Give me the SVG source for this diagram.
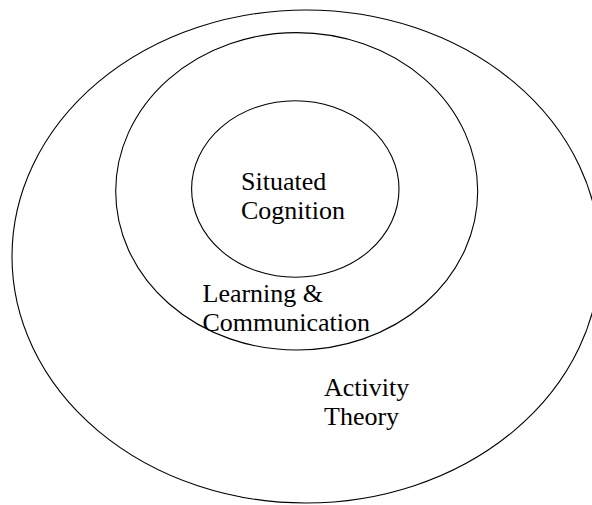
<svg xmlns="http://www.w3.org/2000/svg" width="592" height="505" viewBox="0 0 592 505">
<style>
.ring{fill:none;stroke:#000;stroke-width:1.1}
.lbl{font-family:"Liberation Serif","Times New Roman",serif;font-size:26px;fill:#000}
</style>
<rect width="592" height="505" fill="#fff"/>
<g id="activity-theory">
<ellipse class="ring" cx="306" cy="256.5" rx="294" ry="246.5"/>
<text class="lbl" x="324" y="396">Activity</text>
<text class="lbl" x="324" y="425">Theory</text>
</g>
<g id="learning-communication">
<ellipse class="ring" cx="296.7" cy="191.3" rx="181" ry="158.7"/>
<text class="lbl" x="202.5" y="302">Learning &amp;</text>
<text class="lbl" x="202.5" y="331">Communication</text>
</g>
<g id="situated-cognition">
<ellipse class="ring" cx="295.3" cy="189" rx="103.7" ry="88.3"/>
<text class="lbl" x="241" y="190">Situated</text>
<text class="lbl" x="241" y="219">Cognition</text>
</g>
<g id="connectors"></g>
</svg>
